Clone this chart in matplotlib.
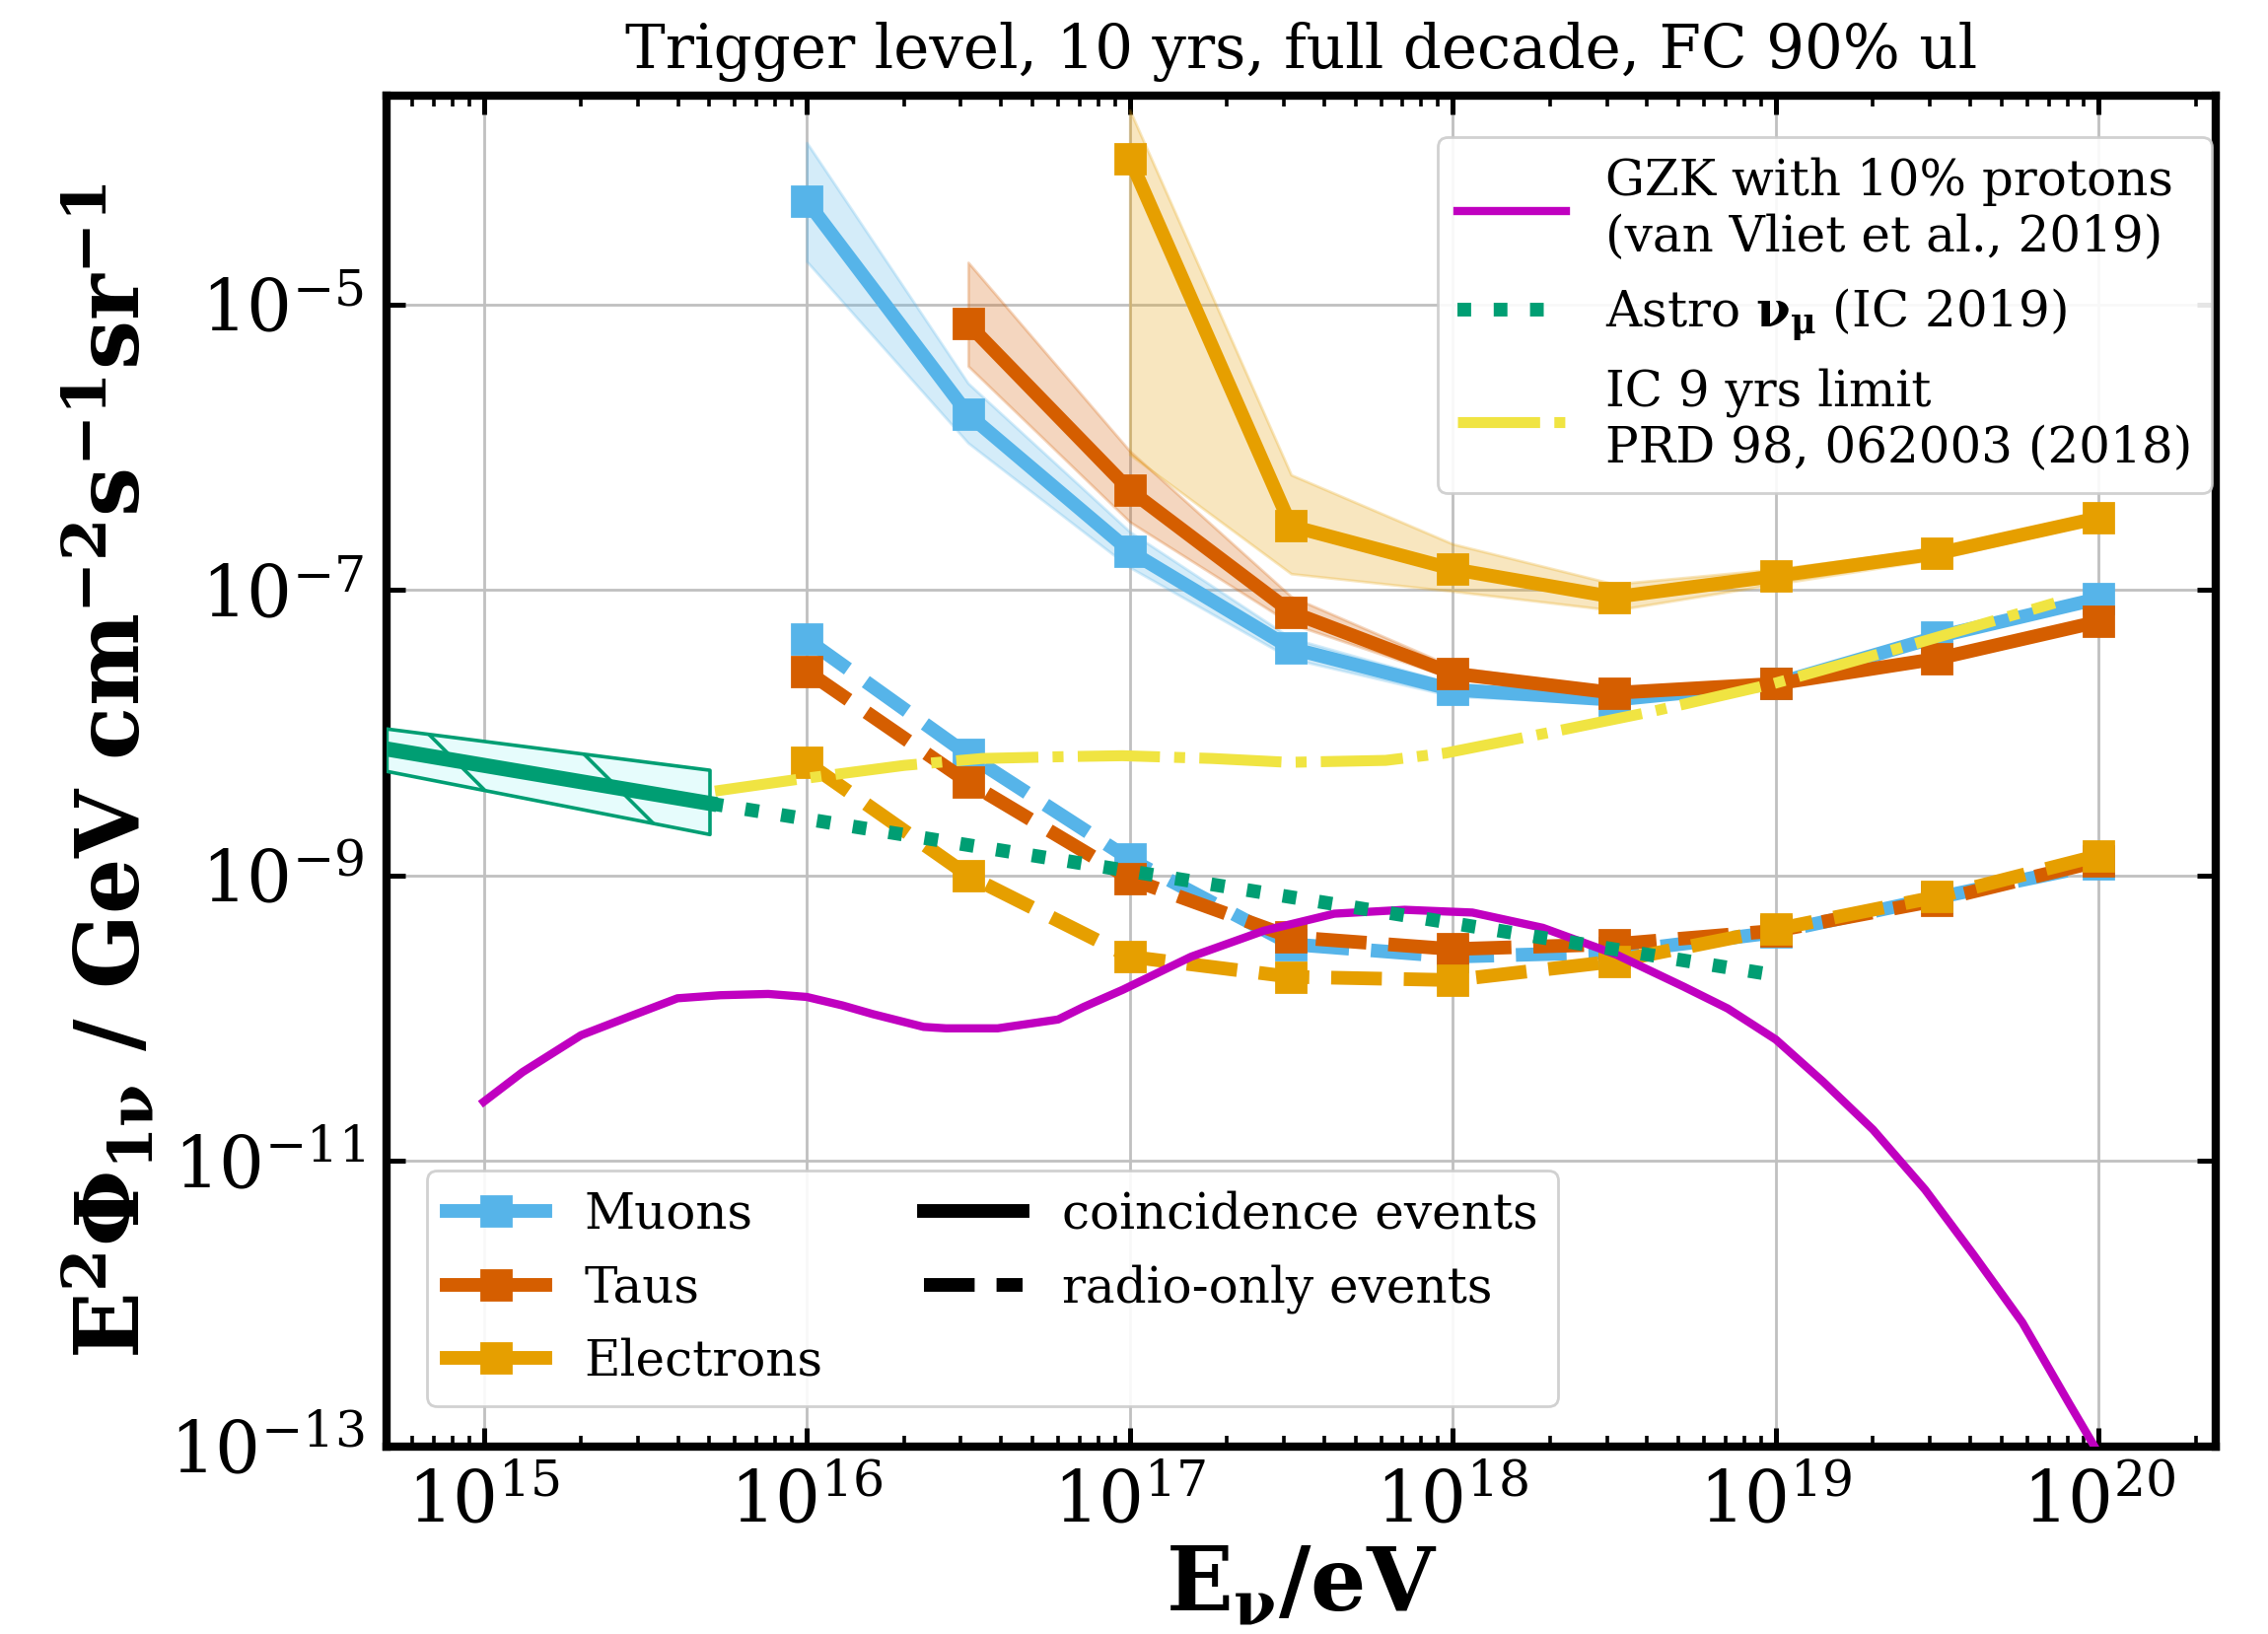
import numpy as np
import matplotlib
matplotlib.use("Agg")
import matplotlib.pyplot as plt
from matplotlib.lines import Line2D
from matplotlib.ticker import LogFormatterSciNotation, NullLocator, LogLocator

plt.rcParams["font.family"] = ["DejaVu Serif"]
plt.rcParams["mathtext.fontset"] = "dejavuserif"

# ---------------- data ----------------
# neutrino energy bins (eV), half-decade steps
energy_bins = [1e16, 3.16e16, 1e17, 3.16e17, 1e18, 3.16e18, 1e19, 3.16e19, 1e20]

# coincidence events: central limit and band (lower / upper)
muon_coinc = [5.3e-5, 1.7e-6, 1.87e-7, 3.9e-8, 2.0e-8, 1.7e-8, 2.2e-8, 4.7e-8, 8.7e-8]
muon_coinc_lo = [2.0e-5, 1.07e-6, 1.44e-7, 3.3e-8, 1.8e-8, 1.6e-8, 2.1e-8, 4.5e-8, 8.3e-8]
muon_coinc_hi = [1.36e-4, 2.8e-6, 2.56e-7, 4.6e-8, 2.2e-8, 1.8e-8, 2.3e-8, 4.9e-8, 9.1e-8]

tau_energy = energy_bins[1:]
tau_coinc = [7.3e-6, 5.0e-7, 7.0e-8, 2.6e-8, 1.9e-8, 2.2e-8, 3.3e-8, 6.0e-8]
tau_coinc_lo = [3.7e-6, 3.0e-7, 5.8e-8, 2.4e-8, 1.8e-8, 2.1e-8, 3.2e-8, 5.8e-8]
tau_coinc_hi = [1.97e-5, 9.4e-7, 9.0e-8, 2.9e-8, 2.0e-8, 2.3e-8, 3.4e-8, 6.2e-8]

electron_energy = energy_bins[2:]
electron_coinc = [1.05e-4, 2.8e-7, 1.4e-7, 8.9e-8, 1.25e-7, 1.8e-7, 3.2e-7]
electron_coinc_lo = [8.9e-7, 1.3e-7, 9.8e-8, 7.2e-8, 1.1e-7, 1.65e-7, 3.0e-7]
electron_coinc_hi = [2.3e-4, 6.4e-7, 2.1e-7, 1.1e-7, 1.4e-7, 1.95e-7, 3.45e-7]

# radio-only events
muon_radio = [4.5e-8, 7.0e-9, 1.3e-9, 3.3e-10, 2.7e-10, 2.9e-10, 4.0e-10, 7.0e-10, 1.2e-9]
tau_radio = [2.7e-8, 4.5e-9, 9.5e-10, 3.7e-10, 3.05e-10, 3.3e-10, 4.1e-10, 6.7e-10, 1.26e-9]
electron_radio = [6.2e-9, 1.0e-9, 2.7e-10, 1.95e-10, 1.85e-10, 2.5e-10, 4.2e-10, 7.1e-10, 1.38e-9]

# GZK model with 10% protons
gzk_energy = [1e15, 1.32e15, 2.0e15, 2.8e15, 3.98e15, 5.4e15, 7.6e15, 1.0e16, 1.29e16,
              1.6e16, 2.3e16, 2.7e16, 3.9e16, 6.0e16, 7.2e16, 9.5e16, 1.55e17, 2.6e17,
              4.3e17, 7.1e17, 1.15e18, 1.9e18, 3.2e18, 5.2e18, 7.1e18, 1e19, 1.4e19,
              2.0e19, 2.9e19, 4.1e19, 5.8e19, 8.1e19, 1e20]
gzk_flux = [2.6e-11, 4.2e-11, 7.6e-11, 1.02e-10, 1.38e-10, 1.45e-10, 1.48e-10, 1.41e-10,
            1.23e-10, 1.07e-10, 8.7e-11, 8.5e-11, 8.5e-11, 9.8e-11, 1.2e-10, 1.58e-10,
            2.7e-10, 4.1e-10, 5.4e-10, 5.75e-10, 5.5e-10, 4.3e-10, 2.8e-10, 1.66e-10,
            1.17e-10, 7.1e-11, 3.6e-11, 1.66e-11, 6.3e-12, 2.2e-12, 7.4e-13, 2.0e-13,
            8.9e-14]

# IceCube astrophysical numu flux: measured range and extrapolation
astro_energy = [5e14, 5e15]
astro_flux = [7.7e-9, 3.2e-9]
astro_lo = [5.4e-9, 1.95e-9]
astro_hi = [1.07e-8, 5.5e-9]
astro_ext_energy = [5e15, 1e19]
astro_ext_flux = [3.2e-9, 2.0e-10]

# IceCube 9-year EHE limit
ic9_energy = [5.2e15, 9.3e15, 2.0e16, 3.5e16, 6.3e16, 9.5e16, 1.8e17, 3.1e17, 6.2e17,
              9.5e17, 2.2e18, 4.1e18, 9.8e18, 2.7e19, 7.3e19]
ic9_flux = [3.9e-9, 4.7e-9, 5.9e-9, 6.6e-9, 6.8e-9, 6.9e-9, 6.6e-9, 6.2e-9, 6.4e-9,
            7.2e-9, 1.05e-8, 1.4e-8, 2.2e-8, 4.2e-8, 8.1e-8]

y_ticks = [1e-13, 1e-11, 1e-9, 1e-7, 1e-5]

# ---------------- style ----------------
c_mu = "#56B4E9"
c_tau = "#D55E00"
c_e = "#E69F00"
c_astro = "#009E73"
c_ic9 = "#F0E442"
c_gzk = "#C000C0"
LW = 5.0
MS = 11

fig = plt.figure(figsize=(11.5, 8.285), dpi=200)
ax = fig.add_axes([0.1704, 0.1147, 0.8065, 0.8268])
ax.set_xscale("log")
ax.set_yscale("log")

# coincidence events with bands
for e, y, lo, hi, c in [
    (energy_bins, muon_coinc, muon_coinc_lo, muon_coinc_hi, c_mu),
    (tau_energy, tau_coinc, tau_coinc_lo, tau_coinc_hi, c_tau),
    (electron_energy, electron_coinc, electron_coinc_lo, electron_coinc_hi, c_e),
]:
    ax.fill_between(e, lo, hi, facecolor=c, alpha=0.25, edgecolor=c, lw=1.0, zorder=2)
    ax.plot(e, y, "-", color=c, lw=LW, marker="s", ms=MS, zorder=3)

# radio-only events
for y, c in [(muon_radio, c_mu), (tau_radio, c_tau), (electron_radio, c_e)]:
    ax.plot(energy_bins, y, "--", color=c, lw=LW, marker="s", ms=MS, zorder=3)

# astrophysical flux band with sparse hatching
band = ax.fill_between(astro_energy, astro_lo, astro_hi, facecolor="#e6fcfc",
                       edgecolor=c_astro, lw=1.3, zorder=4)
clip = (band.get_paths()[0], band.get_transform())
w_px, h_px = 1855.0, 1370.0
for x0 in np.arange(-0.4, 0.5, 0.074):
    hl = Line2D([x0, x0 + h_px / w_px], [1.0, 0.0], transform=ax.transAxes,
                color=c_astro, lw=1.3, zorder=4)
    hl.set_clip_path(*clip)
    ax.add_line(hl)
ax.plot(astro_energy, astro_flux, "-", color=c_astro, lw=5.5, zorder=5)

gzk_line, = ax.plot(gzk_energy, gzk_flux, "-", color=c_gzk, lw=3.0, zorder=6,
                    label="GZK with 10% protons\n(van Vliet et al., 2019)")
astro_line, = ax.plot(astro_ext_energy, astro_ext_flux, ":", color=c_astro, lw=5.0,
                      zorder=6, label=r"Astro $\mathbf{\nu_\mu}$ (IC 2019)")
ic9_line, = ax.plot(ic9_energy, ic9_flux, color=c_ic9, lw=4.0, zorder=6,
                    dashes=(7.5, 1.3, 1.0, 1.3),
                    label="IC 9 yrs limit\nPRD 98, 062003 (2018)")

# ---------------- axes ----------------
ax.set_xlim(5e14, 2.3e20)
ax.set_ylim(1e-13, 2.9e-4)
ax.set_yticks(y_ticks)
ax.yaxis.set_major_formatter(LogFormatterSciNotation())
ax.yaxis.set_minor_locator(NullLocator())
ax.xaxis.set_major_locator(LogLocator(base=10, numticks=20))
ax.xaxis.set_minor_locator(LogLocator(base=10, subs=np.arange(2, 10), numticks=20))

ax.grid(True, which="major", color="#c0c0c0", lw=1.0, zorder=0)
ax.set_axisbelow(True)
for s in ax.spines.values():
    s.set_linewidth(3.0)
ax.tick_params(which="both", direction="in", top=True, right=True, labelsize=26)
ax.tick_params(which="major", length=7, width=1.8, pad=8)
ax.tick_params(which="minor", length=3.8, width=1.3)

ax.set_title("Trigger level, 10 yrs, full decade, FC 90% ul", fontsize=22, pad=10)
ax.set_xlabel(r"$\mathbf{E_{\nu}/eV}$", fontsize=32, labelpad=2)
ax.set_ylabel(r"$\mathbf{E^{2}\Phi_{1\nu}}$ / GeV cm$\mathbf{^{-2}}$s$\mathbf{^{-1}}$sr$\mathbf{^{-1}}$",
              fontsize=32, fontweight="bold", labelpad=4)

# ---------------- legends ----------------
leg1 = ax.legend(handles=[gzk_line, astro_line, ic9_line], loc="upper right",
                 bbox_to_anchor=(0.998, 0.969), borderaxespad=0.0, fontsize=18,
                 handlelength=2.2, framealpha=0.9, edgecolor="#cccccc")
ax.add_artist(leg1)

flavor_handles = [
    Line2D([], [], color=c_mu, lw=LW, marker="s", ms=MS, label="Muons"),
    Line2D([], [], color=c_tau, lw=LW, marker="s", ms=MS, label="Taus"),
    Line2D([], [], color=c_e, lw=LW, marker="s", ms=MS, label="Electrons"),
    Line2D([], [], color="black", lw=LW, ls="-", label="coincidence events"),
    Line2D([], [], color="black", lw=LW, ls="--", label="radio-only events"),
]
ax.legend(handles=flavor_handles, ncol=2, loc="lower left",
          bbox_to_anchor=(0.022, 0.030), borderaxespad=0.0, fontsize=18,
          handlelength=2.0, columnspacing=2.05, framealpha=0.9, edgecolor="#cccccc")

fig.savefig("out.png", dpi=200)
